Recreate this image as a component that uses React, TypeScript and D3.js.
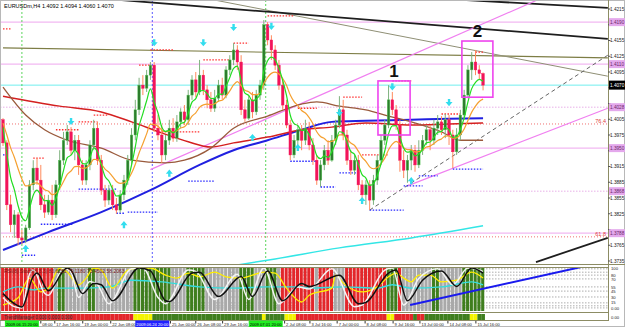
import React from "react";
import * as d3 from "d3";

// ---------- price data (pips, 1 pip = 0.0001) ----------
const FIRST_OPEN = 14004;
const closesPips = [
  13960,13842,13804,13823,13779,13775,13798,13880,13912,13889,
  13842,13828,13851,13823,13880,13927,13965,13981,13946,13965,
  13918,13889,13918,13956,13988,13927,13870,13851,13870,13842,
  13832,13861,13889,13927,13975,14023,14070,14064,14089,14108,
  13988,13975,13937,13965,13988,13969,14000,14019,14004,14051,
  14080,14057,14089,14061,14042,14026,14045,14070,14051,14099,
  14118,14137,14114,14023,14007,14042,14019,14051,14070,14185,
  14156,14137,14108,14070,14032,13994,13937,13965,13985,13965,
  13988,13956,13927,13889,13918,13946,13927,13965,13994,14023,
  13975,13927,13908,13927,13880,13861,13880,13851,13889,13927,
  13965,13994,14042,14023,13994,13927,13908,13927,13946,13918,
  13946,13965,13985,13965,13988,14000,13985,14004,13975,13943,
  13975,14013,14051,14099,14114,14099,14092,14070,
];
const highsPips = [
  14007,13965,13861,13832,13828,13794,13804,13889,13927,13931,
  13918,13861,13861,13880,13889,13946,13981,13994,13990,13975,
  13975,13927,13927,13965,14004,14000,13937,13880,13880,13880,
  13855,13870,13899,13937,13988,14042,14084,14089,14099,14114,
  14114,14013,13994,13975,14004,14007,14013,14026,14032,14061,
  14089,14095,14118,14099,14070,14057,14061,14080,14084,14106,
  14127,14150,14146,14127,14042,14051,14057,14061,14080,14194,
  14190,14165,14146,14118,14080,14042,14004,13975,13994,13994,
  14004,14000,13969,13937,13927,13956,13965,13975,14004,14049,
  14042,13985,13946,13937,13937,13889,13889,13889,13899,13937,
  13975,14004,14070,14057,14032,14004,13946,13937,13956,13956,
  13965,13975,13994,13994,14004,14013,14011,14015,14013,13985,
  13988,14023,14061,14108,14133,14137,14108,14094,
];
const lowsPips = [
  13954,13832,13790,13779,13765,13767,13769,13794,13870,13880,
  13832,13817,13823,13813,13817,13870,13918,13956,13937,13927,
  13899,13880,13880,13908,13946,13918,13861,13838,13842,13832,
  13825,13827,13851,13880,13918,13965,14013,14051,14057,14080,
  13981,13965,13922,13927,13956,13962,13962,13988,13994,13994,
  14042,14047,14051,14051,14026,14019,14019,14038,14042,14045,
  14089,14108,14099,14013,14000,14004,14007,14013,14042,14061,
  14146,14118,14099,14061,14023,13988,13927,13931,13956,13946,
  13956,13946,13918,13880,13876,13908,13918,13924,13956,13988,
  13965,13918,13899,13899,13870,13851,13842,13832,13842,13880,
  13918,13956,13988,14013,13985,13905,13893,13884,13908,13905,
  13912,13937,13956,13946,13956,13975,13975,13969,13956,13912,
  13937,13965,14004,14045,14080,14089,14080,14060,
];

// slow moving averages: [bar, pips]
const brownMA = [[0,14066],[6,14013],[11,13985],[17,13965],[26,13950],[34,13927],[43,13922],[48,13927],[55,13950],[61,13988],[70,14011],[79,14034],[83,14038],[89,14030],[96,14023],[102,14011],[108,14000],[116,13981],[121,13965],[127,13965]];
const redMA = [[0,14049],[15,14030],[26,14019],[34,14000],[42,13979],[49,13962],[55,13952],[61,13960],[70,13971],[79,13985],[87,13990],[96,13998],[108,13994],[118,13996],[127,13998]];
const blueMA = [[0,13756],[12,13790],[26,13828],[39,13870],[52,13918],[61,13946],[70,13965],[79,13985],[87,14000],[96,14002],[108,14004],[118,14006],[127,14007]];
const cyanMA = [[60,13725],[72,13739],[89,13760],[108,13779],[127,13802]];

// trend lines: [bar1, pips1, bar2, pips2]
const blackLines = [[0,14250,160,14158],[120,14233,160,14217],[141,13733,160,13779]];
const olivLines = [[0,14141,160,14122]];
const greyLines = [[56,14232,160,14087]];
const pinkLines = [[39,13909,141.3,14232],[107,13878,160,14026]];
const dashedLines = [[97,13832,160,14127]];

// horizontal levels (pips)
const pinkSolidLevels = [14190, 14110, 13950, 13788];
const pinkDotLevels = [14028, 13868];
const cyanLevel = 14070;
const fibLevels = [[13996, "76.4"], [13781, "61.8"]];

// fractal level segments [bar1, bar2, pips]
const redDots = [[0,2,14177],[8,11,13931],[14,20,13985],[20,25,14000],[24,28,14013],[36,39,14108],[39,45,14137],[42,52,13981],[53,60,14118],[61,65,14150],[70,77,14202],[78,83,14026],[90,95,14047],[95,102,13937],[103,108,14078],[116,121,14015],[125,127,14133]];
const blueDots = [[0,1,13937],[5,8.5,13746],[10,18.5,13805],[20,30,13872],[30,32,13826],[33,41,13828],[49,56,13887],[76,83,13925],[84,88,13876],[89,94,13903],[97,106,13832],[106,111,13878],[110,115,13897],[119,127,13910]];

// signal arrows [bar, pips]
const downArrows = [[18,14000],[40,14150],[53,14150],[61,14179],[71,14181],[89,14017],[103,14066],[118,14036]];
const upArrows = [[6,13760],[32,13805],[44,13903],[66,13971],[78,13952],[95,13851],[108,13889]];

// boxes [bar1, pips1, bar2, pips2, label]
const boxes = [[99.2,14078,107.7,13975,"1"],[121.4,14154,129.6,14047,"2"]];

// vertical lines [bar, colour, label]
const vLines = [[5,"#33cc33","2009.06.15 20:00"],[39.5,"#3333ff","2009.06.24 20:00"],[69.5,"#33cc33","2009.07.01 20:00"]];

// price axis ticks
const priceTicks = [1.4215,1.4185,1.4155,1.4125,1.4095,1.4065,1.4035,1.4005,1.3975,1.3945,1.3915,1.3885,1.3855,1.3825,1.3795,1.3765,1.3735];

// date labels [bar, text] (only the parts that are visible)
const dateLabels = [[10,"08:00"],[13.7,"17 Jun 16:00"],[21.1,"19 Jun 00:00"],[28.5,"22 Jun 08:00"],[44.3,"25 Jun 00:00"],[51,"26 Jun 08:00"],[58.1,"29 Jun 16:00"],[74.5,"2 Jul 08:00"],[81.2,"3 Jul 16:00"],[88.4,"7 Jul 00:00"],[95.8,"8 Jul 08:00"],[103.2,"9 Jul 16:00"],[110.3,"13 Jul 00:00"],[117.7,"14 Jul 08:00"],[125.1,"15 Jul 16:00"]];

// oscillator panel
const panelColumns = [["r",14],["s",1],["g",2],["s",6],["g",2],["s",10],["g",10],["s",4],["g",5],["s",9],["g",4],["s",3],["g",3],["s",1],["r",9],["s",1],["r",4],["s",3],["r",11],["g",3],["r",1],["s",8],["g",2],["s",6],["g",6]];
const stripColumns = [["r",35],["y",5],["g",29],["y",1],["g",5],["y",3],["r",24],["y",2],["r",5],["g",1],["r",2],["g",12],["y",2],["g",2]];
const blackOsc = [[0,39],[3,15],[5,7],[8,80],[9,88],[12,46],[17,100],[18,95],[21,39],[24,63],[26,60],[29,22],[36,100],[39,93],[43,22],[44,20],[50,88],[52,90],[57,32],[63,80],[66,32],[70,93],[74,22],[79,63],[81,56],[89,83],[94,15],[96,18],[102,88],[104,95],[107,22],[111,71],[116,93],[120,56],[124,100],[127,88]];
const whiteOsc = [[0,30],[3,8],[5,5],[7,85],[8,95],[11,40],[12,35],[16,100],[18,90],[20,30],[23,68],[25,60],[28,15],[34,98],[37,100],[41,30],[43,15],[49,95],[51,92],[56,25],[62,85],[65,25],[69,100],[73,15],[78,55],[81,50],[87,98],[93,8],[95,12],[101,95],[103,100],[106,12],[110,75],[115,98],[119,60],[123,100],[127,92]];
const yellowOsc = [[0,12],[4,29],[7,76],[10,43],[12,52],[15,100],[17,90],[20,60],[22,76],[24,100],[26,95],[29,52],[33,95],[36,100],[39,100],[43,83],[46,76],[49,88],[52,79],[56,90],[59,79],[63,76],[66,83],[69,90],[72,88],[75,52],[79,19],[81,35],[87,52],[88,83],[90,64],[95,43],[99,55],[102,79],[104,88],[106,76],[108,67],[110,83],[113,83],[116,67],[120,71],[124,90],[127,76]];
const cyanOsc = [[0,43],[4,55],[8,48],[11,52],[20,52],[28,55],[34,71],[42,67],[52,55],[61,52],[70,55],[79,55],[81,52],[90,55],[99,52],[103,60],[108,52],[116,55],[124,67],[127,60]];
const oscTrend = [107.7,12,155.3,107];
const oscLevels = [98,90,83,74,55,45,31,17,10,5];
const oscLabelLevels = [98,83,74,55,45,31,17,5];
const oscLabelTexts = ["100","80","70","55","45","30","15","0.00"];

const FONT = "Liberation Sans, Arial, sans-serif";

export default function App() {
  const x = d3.scaleLinear().domain([0, 127]).range([3, 483.06]);
  const y = d3.scaleLinear().domain([1.3735, 1.4215]).range([261, 9]);
  const yp = (p: number) => y(p / 1e4);
  const py = d3.scaleLinear().domain([0, 100]).range([310, 268]);
  const dx = x(1) - x(0);

  const closes = closesPips;
  const opens = closes.map((c, i) => (i === 0 ? FIRST_OPEN : closes[i - 1]));

  const ema = (period: number) => {
    const k = 2 / (period + 1);
    let e = FIRST_OPEN;
    return closes.map((c, i) => { e = e + k * (c - e); return [i, e] as [number, number]; });
  };
  const maLine = d3.line<number[]>().x(d => x(d[0])).y(d => yp(d[1])).curve(d3.curveMonotoneX);
  const oscLine = d3.line<number[]>().x(d => x(d[0])).y(d => py(d[1])).curve(d3.curveMonotoneX);

  const expand = (runs: any[]) => runs.flatMap(([c, n]) => Array(n).fill(c));
  const cols = expand(panelColumns);
  const strip = expand(stripColumns);
  const colColor: any = { r: "#e3262a", s: "#a9a9a9", g: "#3f7e1e", y: "#f4f400" };

  const boxedLevels = [...pinkSolidLevels, ...pinkDotLevels, cyanLevel];
  const visibleTicks = priceTicks.filter(t => boxedLevels.every(p => Math.abs(y(t) - yp(p)) > 6.5));

  const segLine = (l: number[], stroke: string, sw: number, dash?: string, key?: any) => (
    <line key={key} x1={x(l[0])} y1={yp(l[1])} x2={x(l[2])} y2={yp(l[3])} stroke={stroke} strokeWidth={sw} strokeDasharray={dash} />
  );

  const arrowDown = (cx: number, cy: number) => `M${cx - 1.2},${cy - 4} h2.4 v3 h2.3 l-3.5,4.2 l-3.5,-4.2 h2.3 z`;
  const arrowUp = (cx: number, cy: number) => `M${cx - 1.2},${cy + 4} h2.4 v-3 h2.3 l-3.5,-4.2 l-3.5,4.2 h2.3 z`;

  return (
    <svg width={625} height={327} style={{ position: "fixed", left: 0, top: 0, background: "#fff" }} fontFamily={FONT}>
      <defs>
        <clipPath id="mainClip"><rect x={1} y={1} width={607} height={263} /></clipPath>
        <clipPath id="oscClip"><rect x={1} y={268} width={607} height={44} /></clipPath>
      </defs>
      <rect x={0} y={0} width={625} height={327} fill="#fff" />
      <rect x={0.5} y={0.5} width={624} height={326} fill="none" stroke="#b8b8b8" />

      {/* ---------- main chart ---------- */}
      <g clipPath="url(#mainClip)">
        {pinkSolidLevels.map((p, i) => <line key={"ps" + i} x1={0} x2={608} y1={yp(p)} y2={yp(p)} stroke="#f2b8f2" strokeWidth={1.3} />)}
        {pinkDotLevels.map((p, i) => <line key={"pd" + i} x1={0} x2={608} y1={yp(p)} y2={yp(p)} stroke="#e8b0e8" strokeWidth={1} strokeDasharray="1.5,1.5" />)}
        {fibLevels.map((f: any, i) => <line key={"fb" + i} x1={0} x2={608} y1={yp(f[0])} y2={yp(f[0])} stroke="#f07070" strokeWidth={1} strokeDasharray="1,2" />)}
        <line x1={0} x2={608} y1={yp(cyanLevel)} y2={yp(cyanLevel)} stroke="#70eeee" strokeWidth={1} />
        {vLines.map((v: any, i) => <line key={"vl" + i} x1={x(v[0])} x2={x(v[0])} y1={0} y2={264} stroke={v[1]} strokeWidth={1} strokeDasharray="2,2" opacity={0.8} />)}

        {olivLines.map((l, i) => segLine(l, "#7d7d45", 1.2, undefined, "ol" + i))}
        {greyLines.map((l, i) => segLine(l, "#8f8f75", 1, undefined, "gl" + i))}
        {blackLines.map((l, i) => segLine(l, "#1e1e1e", 1.8, undefined, "bl" + i))}
        {pinkLines.map((l, i) => segLine(l, "#f080f0", 1.2, undefined, "pl" + i))}
        {dashedLines.map((l, i) => segLine(l, "#666", 1, "4,3", "dl" + i))}

        {redDots.map((d, i) => <line key={"rd" + i} x1={x(d[0])} x2={x(d[1])} y1={yp(d[2])} y2={yp(d[2])} stroke="#ff3030" strokeWidth={1.3} strokeDasharray="1.5,1.5" />)}
        {blueDots.map((d, i) => <line key={"bd" + i} x1={x(d[0])} x2={x(d[1])} y1={yp(d[2])} y2={yp(d[2])} stroke="#2a2aff" strokeWidth={1.3} strokeDasharray="1.5,1.5" />)}

        <path d={maLine(cyanMA) || ""} fill="none" stroke="#33e6e6" strokeWidth={1.5} />
        <path d={maLine(blueMA) || ""} fill="none" stroke="#2020e0" strokeWidth={2} />
        <path d={maLine(redMA) || ""} fill="none" stroke="#d42020" strokeWidth={1.5} />
        <path d={maLine(brownMA) || ""} fill="none" stroke="#9a5a3c" strokeWidth={1.3} />

        {closes.map((c, i) => {
          const o = opens[i];
          const up = c >= o;
          const cx = x(i);
          const top = yp(Math.max(o, c));
          const bot = yp(Math.min(o, c));
          return (
            <g key={"c" + i}>
              <line x1={cx} x2={cx} y1={yp(highsPips[i])} y2={yp(lowsPips[i])} stroke={up ? "#7fb27f" : "#ff8a5c"} strokeWidth={1} />
              <rect x={cx - 1.3} y={top} width={2.6} height={Math.max(1, bot - top)} fill={up ? "#2d7d2d" : "#f2145a"} stroke={up ? "#5fcf5f" : "#f2145a"} strokeWidth={0.4} />
            </g>
          );
        })}

        <path d={maLine(ema(13)) || ""} fill="none" stroke="#f5a030" strokeWidth={1.2} />
        <path d={maLine(ema(5)) || ""} fill="none" stroke="#22dd22" strokeWidth={1.2} />

        {downArrows.map((a, i) => <path key={"da" + i} d={arrowDown(x(a[0]), yp(a[1]))} fill="#33ddee" />)}
        {upArrows.map((a, i) => <path key={"ua" + i} d={arrowUp(x(a[0]), yp(a[1]))} fill="#33ddee" />)}

        {boxes.map((b: any, i) => (
          <g key={"bx" + i}>
            <rect x={x(b[0])} y={yp(b[1])} width={x(b[2]) - x(b[0])} height={yp(b[3]) - yp(b[1])} fill="none" stroke="#ee44ee" strokeWidth={1.6} />
            <text x={(x(b[0]) + x(b[2])) / 2} y={yp(b[1]) - 4} textAnchor="middle" fontSize={17} fontWeight="bold" fill="#111">{b[4]}</text>
          </g>
        ))}

        {fibLevels.map((f: any, i) => <text key={"ft" + i} x={606} y={yp(f[0]) - 1} textAnchor="end" fontSize={5.5} fill="#e04040">{f[1]}</text>)}
        <text x={4} y={8} fontSize={5.5} fill="#000">EURUSDm,H4  1.4092  1.4094  1.4060  1.4070</text>
      </g>

      {/* ---------- price axis ---------- */}
      <line x1={608.5} x2={608.5} y1={0} y2={321} stroke="#8c8c64" strokeWidth={1} />
      <line x1={0} x2={625} y1={264.5} y2={264.5} stroke="#8c8c64" strokeWidth={1} />
      {priceTicks.map((t, i) => <line key={"ptm" + i} x1={608} x2={610.5} y1={y(t)} y2={y(t)} stroke="#555" />)}
      {visibleTicks.map((t, i) => (
        <text key={"pt" + i} x={610} y={y(t) + 1.8} fontSize={4.7} fill="#222">{t.toFixed(4)}</text>
      ))}
      {[...pinkSolidLevels, ...pinkDotLevels].map((p, i) => (
        <g key={"pb" + i}>
          <rect x={609} y={yp(p) - 4} width={16} height={8} fill="#e4a8ec" />
          <text x={610} y={yp(p) + 1.8} fontSize={4.7} fill="#6a2a6a">{(p / 1e4).toFixed(4)}</text>
        </g>
      ))}
      <rect x={609} y={yp(cyanLevel) - 4.5} width={16} height={9} fill="#000" />
      <text x={610} y={yp(cyanLevel) + 1.8} fontSize={4.7} fill="#fff">{(cyanLevel / 1e4).toFixed(4)}</text>

      {/* ---------- oscillator panel ---------- */}
      <line x1={0} x2={608} y1={267.5} y2={267.5} stroke="#8c8c64" strokeWidth={1} />
      {oscLevels.map((v, i) => <line key={"ol" + i} x1={0} x2={608} y1={py(v)} y2={py(v)} stroke="#999" strokeWidth={0.8} strokeDasharray="1.5,1.5" />)}
      {cols.map((c, i) => <rect key={"pc" + i} x={x(i) - dx / 2} y={268} width={dx - 0.7} height={43} fill={colColor[c]} />)}
      <g clipPath="url(#oscClip)">
        <path d={oscLine(cyanOsc) || ""} fill="none" stroke="#33dddd" strokeWidth={1.4} />
        <path d={oscLine(yellowOsc) || ""} fill="none" stroke="#ffee00" strokeWidth={1.3} />
        <path d={oscLine(whiteOsc) || ""} fill="none" stroke="#f4f4f4" strokeWidth={1.5} />
        <path d={oscLine(blackOsc) || ""} fill="none" stroke="#111" strokeWidth={1.5} />
        <line x1={x(oscTrend[0])} y1={py(oscTrend[1])} x2={x(oscTrend[2])} y2={py(oscTrend[3])} stroke="#1a1aee" strokeWidth={2} />
      </g>
      <text x={4} y={273} fontSize={5} fill="#7a1a1a">RSI(8) Stoch(8,3,3) 83.6251 79.1180 73.4502 58.2063</text>
      {oscLabelLevels.map((v, i) => (
        <text key={"olt" + i} x={611} y={py(v) + 1.6} fontSize={4.2} fill="#222">{oscLabelTexts[i]}</text>
      ))}
      <line x1={0} x2={608} y1={312.5} y2={312.5} stroke="#8c8c64" strokeWidth={1} />

      {/* ---------- signal strip ---------- */}
      {strip.map((c, i) => <rect key={"sc" + i} x={x(i) - dx / 2} y={314} width={dx} height={6} fill={colColor[c]} />)}
      <text x={4} y={319} fontSize={4.6} fill="#333">TrendManager  0.000  0.000  0.000</text>
      <line x1={0} x2={608} y1={320.5} y2={320.5} stroke="#8c8c64" strokeWidth={1} />
      <text x={611} y={319} fontSize={4.2} fill="#222">0.00</text>

      {/* ---------- time axis ---------- */}
      {dateLabels.map((d: any, i) => (
        <g key={"dl" + i}>
          <line x1={x(d[0])} x2={x(d[0])} y1={321} y2={323.5} stroke="#333" />
          <text x={x(d[0]) + 1.5} y={326} fontSize={4.1} fill="#222">{d[1]}</text>
        </g>
      ))}
      {vLines.map((v: any, i) => (
        <g key={"vb" + i}>
          <rect x={x(v[0]) - 17} y={320.5} width={34} height={6.5} fill={i === 1 ? "#2020ff" : "#22ee22"} />
          <text x={x(v[0])} y={326} textAnchor="middle" fontSize={4.1} fill={i === 1 ? "#fff" : "#000"}>{v[2]}</text>
        </g>
      ))}
    </svg>
  );
}
